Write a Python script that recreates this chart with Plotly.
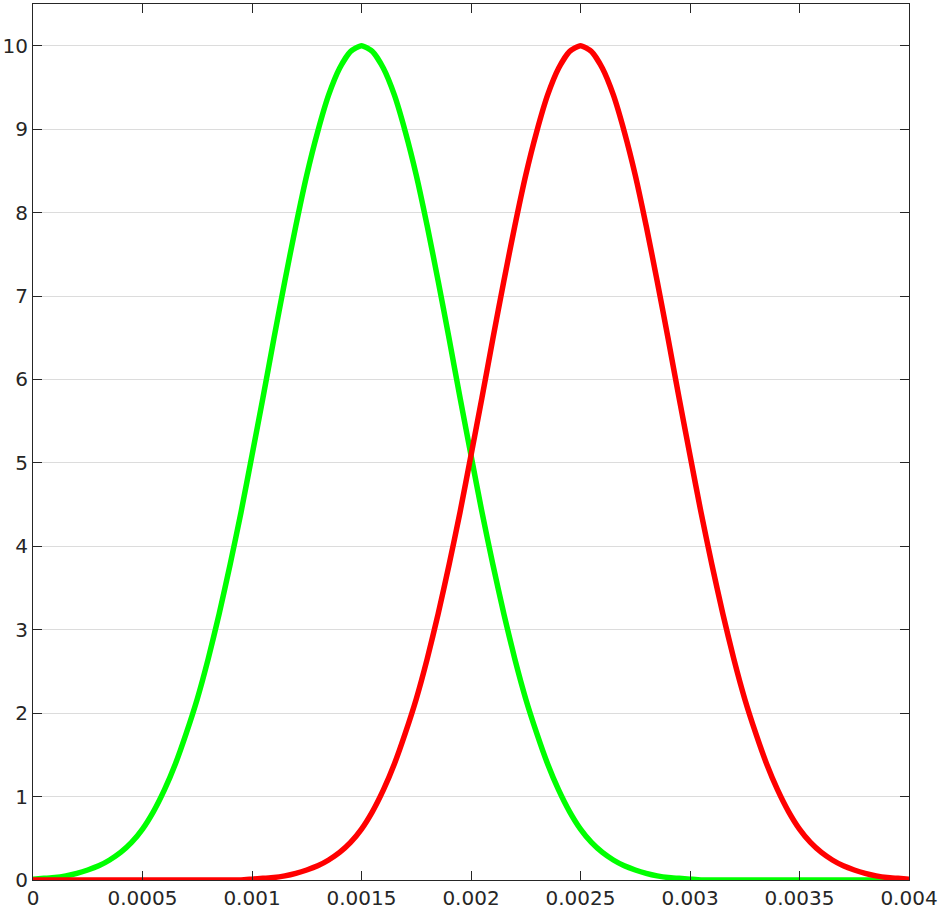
import plotly.graph_objects as go

# x positions of the samples (step 0.00005 from 0 to 0.004)
x_vals = [round(i * 0.00005, 5) for i in range(81)]

green_vals = [
    0.01, 0.02, 0.03, 0.05, 0.08, 0.12, 0.17, 0.24, 0.33, 0.45,
    0.61, 0.82, 1.08, 1.39, 1.76, 2.17, 2.65, 3.19, 3.78, 4.41,
    5.09, 5.78, 6.49, 7.18, 7.84, 8.45, 8.97, 9.41, 9.73, 9.93,
    10.0,
    9.93, 9.73, 9.41, 8.97, 8.45, 7.84, 7.18, 6.49, 5.78, 5.09,
    4.41, 3.78, 3.19, 2.65, 2.17, 1.76, 1.39, 1.08, 0.82, 0.61,
    0.45, 0.33, 0.24, 0.17, 0.12, 0.08, 0.05, 0.03, 0.02, 0.01,
    0, 0, 0, 0, 0, 0, 0, 0, 0, 0,
    0, 0, 0, 0, 0, 0, 0, 0, 0, 0,
]

red_vals = [
    0, 0, 0, 0, 0, 0, 0, 0, 0, 0,
    0, 0, 0, 0, 0, 0, 0, 0, 0, 0,
    0.01, 0.02, 0.03, 0.05, 0.08, 0.12, 0.17, 0.24, 0.33, 0.45,
    0.61, 0.82, 1.08, 1.39, 1.76, 2.17, 2.65, 3.19, 3.78, 4.41,
    5.09, 5.78, 6.49, 7.18, 7.84, 8.45, 8.97, 9.41, 9.73, 9.93,
    10.0,
    9.93, 9.73, 9.41, 8.97, 8.45, 7.84, 7.18, 6.49, 5.78, 5.09,
    4.41, 3.78, 3.19, 2.65, 2.17, 1.76, 1.39, 1.08, 0.82, 0.61,
    0.45, 0.33, 0.24, 0.17, 0.12, 0.08, 0.05, 0.03, 0.02, 0.01,
]

x_ticks = [0, 0.0005, 0.001, 0.0015, 0.002, 0.0025, 0.003, 0.0035, 0.004]
x_tick_labels = ['0', '0.0005', '0.001', '0.0015', '0.002', '0.0025', '0.003', '0.0035', '0.004']
y_ticks = [0, 1, 2, 3, 4, 5, 6, 7, 8, 9, 10]

axis_color = '#262626'

fig = go.Figure()

fig.add_trace(go.Scatter(
    x=x_vals, y=green_vals, mode='lines',
    line=dict(color='#00ff00', width=5.5, shape='spline', smoothing=0.6),
    cliponaxis=False, showlegend=False
))
fig.add_trace(go.Scatter(
    x=x_vals, y=red_vals, mode='lines',
    line=dict(color='#ff0000', width=5.5, shape='spline', smoothing=0.6),
    cliponaxis=False, showlegend=False
))

fig.update_layout(
    width=944,
    height=908,
    plot_bgcolor='white',
    paper_bgcolor='white',
    margin=dict(l=33, r=35, t=4, b=28, autoexpand=False),
    font=dict(family='DejaVu Sans', size=20, color=axis_color),
    xaxis=dict(
        range=[0, 0.004],
        tickvals=x_ticks,
        ticktext=x_tick_labels,
        automargin=False,
        showgrid=False,
        zeroline=False,
        showline=True,
        mirror='ticks',
        linecolor=axis_color,
        linewidth=1,
        ticks='inside',
        ticklen=9,
        tickcolor=axis_color,
    ),
    yaxis=dict(
        range=[0, 10.5],
        tickvals=y_ticks,
        automargin=False,
        showgrid=True,
        gridcolor='#dcdcdc',
        zeroline=False,
        showline=True,
        mirror='ticks',
        linecolor=axis_color,
        linewidth=1,
        ticks='inside',
        ticklen=9,
        tickcolor=axis_color,
    ),
)

# the page's default body margin would shift the figure by 8px
fig.write_html(
    'out.html',
    config={'displayModeBar': False},
    post_script="document.body.style.margin='0';document.body.style.overflow='hidden';"
)
